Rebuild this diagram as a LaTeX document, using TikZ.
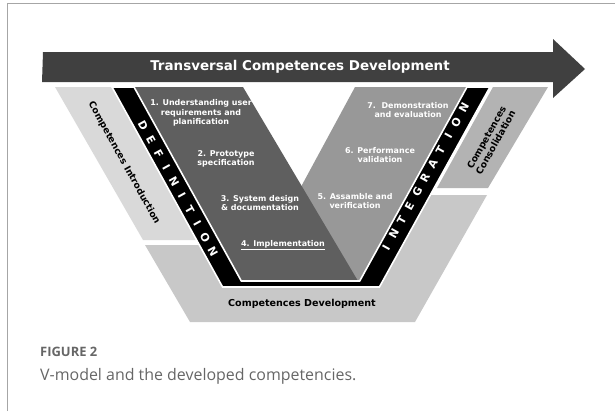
\documentclass[tikz,border=0pt]{standalone}
\usepackage{fontspec}
\setmainfont{DejaVu Sans}
\newfontfamily\capfont{Open Sans}
\usepackage{xcolor}
\definecolor{framegray}{HTML}{A6A6A6}
\definecolor{arrowgray}{HTML}{404040}
\definecolor{introgray}{HTML}{D9D9D9}
\definecolor{devgray}{HTML}{C8C8C8}
\definecolor{consgray}{HTML}{B3B3B3}
\definecolor{darkarm}{HTML}{5F5F5F}
\definecolor{lightarm}{HTML}{989898}
\definecolor{captiongray}{HTML}{666666}
% one spaced capital of the V labels
\newcommand{\vlet}[1]{\makebox[16bp]{#1}}

\begin{document}
\begin{tikzpicture}[x=1bp,y=-1bp,
  steptext/.style={text=white,font=\bfseries\fontsize{8}{9.5}\selectfont,align=center,inner sep=0pt},
  bandtext/.style={font=\bfseries\fontsize{9.3}{10.5}\selectfont,align=center,inner sep=0pt},
  vletter/.style={text=white,font=\bfseries\fontsize{11}{11}\selectfont,inner sep=0pt}]
 \useasboundingbox (0,0) rectangle (615,411);
 % frame
 \draw[framegray,line width=1bp] (7,411)--(7,3)--(615,3);
 % arrow
 \path[fill=arrowgray] (43,52)--(553,52)--(553,39)--(585,69)--(553,98)--(553,82)--(42,82)--cycle;
 \node[text=white,inner sep=0pt,font=\bfseries\fontsize{13.5}{14}\selectfont] (transv) at (300,67) {Transversal Competences Development};
 % outer bands
 \path[fill=introgray] (55,87)--(118,87)--(203,240)--(143,240)--cycle;
 \path[fill=devgray] (145,245)--(190,322)--(415,322)--(487,195)--(420,195)--(300,270)--(205,245)--cycle;
 \path[fill=consgray] (493,87)--(548,87)--(488,188)--(437,188)--cycle;
 % inner arms
 \path[fill=lightarm] (355,87)--(470,87)--(362,281)--(250,281)--cycle;
 \path[fill=darkarm] (130,87)--(243,87)--(358,281)--(235,281)--cycle;
 % black V
 \draw[white,fill=black,line width=1.6bp,line join=miter] (112,87)--(222.6,287)--(379.4,287)--(490,87)--(467,87)--(359.7,281)--(241.3,281)--(134,87)--cycle;
 %%%%%%%%%%%%%%%%%%%%%%%%%%%%%%%%%%%
 \node[vletter,rotate=-61] (defin) at (178,188.5) {\vlet D\vlet E\vlet F\vlet I\vlet N\vlet I\vlet T\vlet I\vlet O\vlet N};
 \node[vletter,rotate=61] (integ) at (425,178) {\vlet I\vlet N\vlet T\vlet E\vlet G\vlet R\vlet A\vlet T\vlet I\vlet O\vlet N};
 \node[bandtext,rotate=-61] (intro) at (124,163) {Competences Introduction};
 \node[bandtext,rotate=61] (consol) at (491,140) {Competences\\Consolidation};
 \node[bandtext,font=\bfseries\fontsize{9.6}{11}\selectfont] (develop) at (302,304) {Competences Development};
 % steps
 \node[steptext] (s1) at (201,113) {1. Understanding user\\requirements and\\planification};
 \node[steptext] (s2) at (226,159) {2. Prototype\\specification};
 \node[steptext] (s3) at (260,203) {3. System design\\\& documentation};
 \node[steptext] (s4) at (283,245) {\underline{4. Implementation}};
 \node[steptext] (s5) at (355,201) {5. Assamble and\\verification};
 \node[steptext] (s6) at (380,155) {6. Performance\\validation};
 \node[steptext] (s7) at (408,110) {7.\ \ Demonstration\\and evaluation};
 % caption
 \node[anchor=base west,inner sep=0pt,text=captiongray,font=\capfont\bfseries\fontsize{13}{14}\selectfont] (fig) at (40,356) {FIGURE 2};
 \node[anchor=base west,inner sep=0pt,text=captiongray,font=\capfont\fontsize{16}{17}\selectfont] (cap) at (40,380) {V-model and the developed competencies.};
\end{tikzpicture}
\end{document}
